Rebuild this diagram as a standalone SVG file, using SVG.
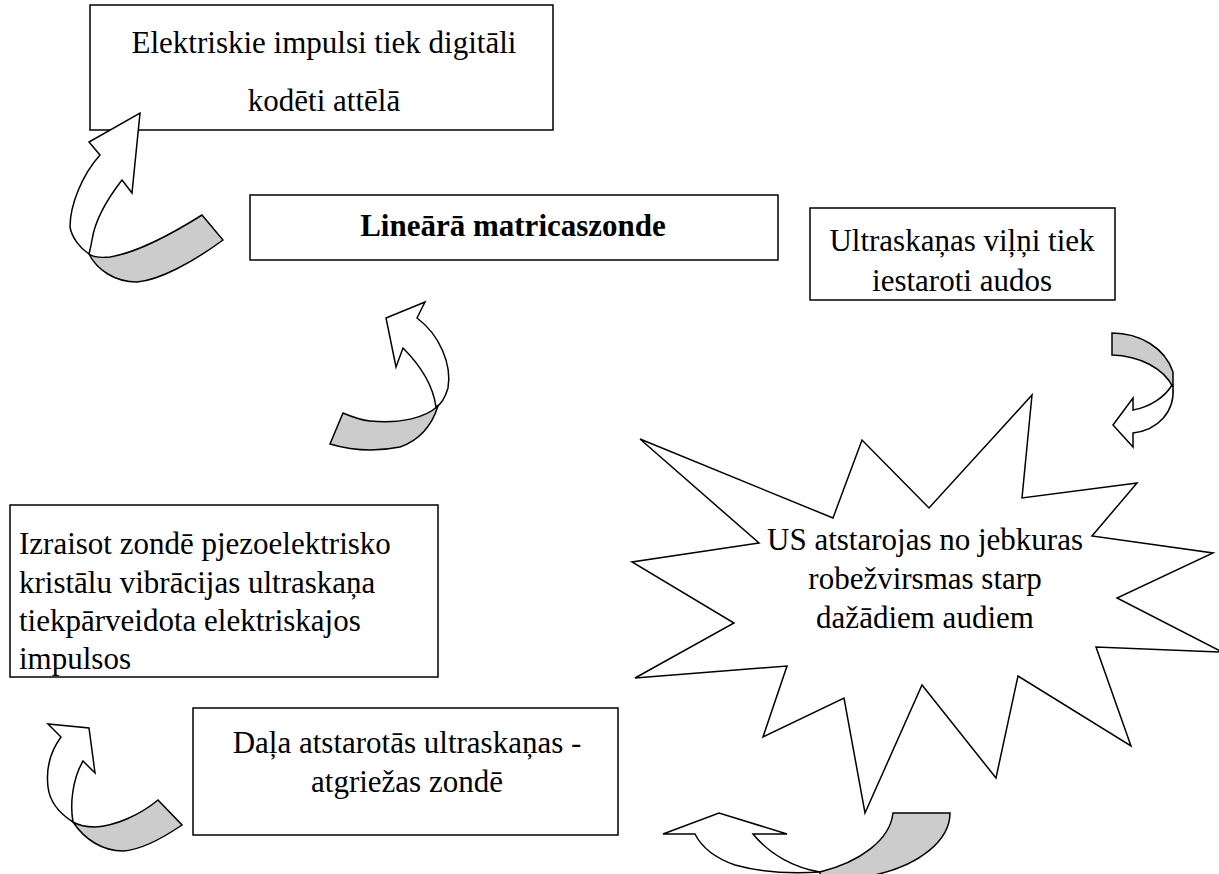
<svg xmlns="http://www.w3.org/2000/svg" width="1219" height="874" viewBox="0 0 1219 874">
<style>
.box{fill:#fff;stroke:#000;stroke-width:1.5}
.t{font-family:"Liberation Serif","Times New Roman",serif;font-size:31px;fill:#000}
.c{text-anchor:middle}
.w{fill:#fff;stroke:#000;stroke-width:1.5;stroke-linejoin:miter}
.g{fill:#cccccc;stroke:#000;stroke-width:1.5}
</style>
<rect width="1219" height="874" fill="#fff"/>
<g id="n1"><rect class="box" x="90" y="5" width="463" height="125"/>
<text class="t c" x="324" y="53" font-size="33">Elektriskie impulsi tiek digitāli</text>
<text class="t c" x="324" y="111" font-size="33">kodēti attēlā</text></g>
<g id="n2"><rect class="box" x="250" y="195" width="528" height="65"/>
<text class="t c" x="513" y="236" font-size="28" font-weight="bold">Lineārā matricaszonde</text></g>
<g id="n3"><rect class="box" x="810" y="208" width="305" height="92"/>
<text class="t c" x="962" y="251">Ultraskaņas viļņi tiek</text>
<text class="t c" x="962" y="291">iestaroti audos</text></g>
<g id="n4"><rect class="box" x="10" y="505" width="428" height="172"/>
<text class="t" x="19" y="554">Izraisot zondē pjezoelektrisko</text>
<text class="t" x="19" y="593">kristālu vibrācijas ultraskaņa</text>
<text class="t" x="19" y="631">tiekpārveidota elektriskajos</text>
<text class="t" x="19" y="669">impulsos</text></g>
<g id="n5"><rect class="box" x="193" y="708" width="425" height="127"/>
<text class="t c" x="407" y="753">Daļa atstarotās ultraskaņas -</text>
<text class="t c" x="407" y="792">atgriežas zondē</text></g>
<g id="n6"><polygon class="box" points="640,439 833,518 862,440 929,508 1032,395 1022,498 1137,483 1092,536 1213,553 1117,598 1222,652 1096,647 1131,746 1018,676 996,778 922,685 865,813 844,698 763,737 787,666 635,678 734,623 632,562 759,543"/>
<text class="t c" x="925" y="550" font-size="28">US atstarojas no jebkuras</text>
<text class="t c" x="925" y="589" font-size="28">robežvirsmas starp</text>
<text class="t c" x="925" y="628" font-size="28">dažādiem audiem</text></g>
<g id="connectors">
<g id="a1">
<path class="w" d="M100,155 L89,142 L140,113 L132,193 L122,180 C108,198 95,220 92,240 C91,246 90,250 89,254 C80,248 72,238 70,227 C70,205 82,175 100,155 Z"/>
<path class="g" d="M89,254 C97,270 115,282 137,282 C160,280 193,262 223,240 L202,215 C175,232 140,252 110,257 C100,258 93,257 89,254 Z"/>
</g>
<g id="a2">
<path class="w" d="M417,318 L425,302 L386,318 L396,367 L403,348 C420,365 433,385 436,407 C440,405 445,398 448,388 C452,365 440,335 417,318 Z"/>
<path class="g" d="M438,406 C425,418 400,424 370,421 C360,420 350,416 343,413 L330,444 C350,450 375,452 400,447 C420,440 432,425 438,406 Z"/>
</g>
<g id="a3">
<path class="g" d="M1112,333 C1140,333 1165,348 1173,372 L1173,387 C1163,368 1140,356 1112,355 Z"/>
<path class="w" d="M1173,387 C1175,412 1158,430 1133,433 L1133,447 L1113,425 L1133,398 L1133,410 C1150,407 1165,397 1172,385 Z"/>
</g>
<g id="a4">
<path class="w" d="M61,737 L48,724 L89,728 L95,773 L83,761 C72,780 70,805 73,822 C62,815 50,805 48,787 C46,770 50,752 61,737 Z"/>
<path class="g" d="M73,822 C85,840 103,851 123,851 C140,850 160,840 182,825 L158,800 C140,815 115,826 95,827 C85,827 78,825 73,822 Z"/>
</g>
<g id="a5">
<path class="w" d="M695,834 L663,834 L719,813 L787,834 L753,834 C770,855 795,868 820,872 C790,874 760,872 735,865 C715,858 702,848 695,834 Z"/>
<path class="g" d="M820,872 C860,862 890,840 893,813 L950,813 C950,840 920,866 870,876 L820,876 Z"/>
</g>
</g>
</svg>
